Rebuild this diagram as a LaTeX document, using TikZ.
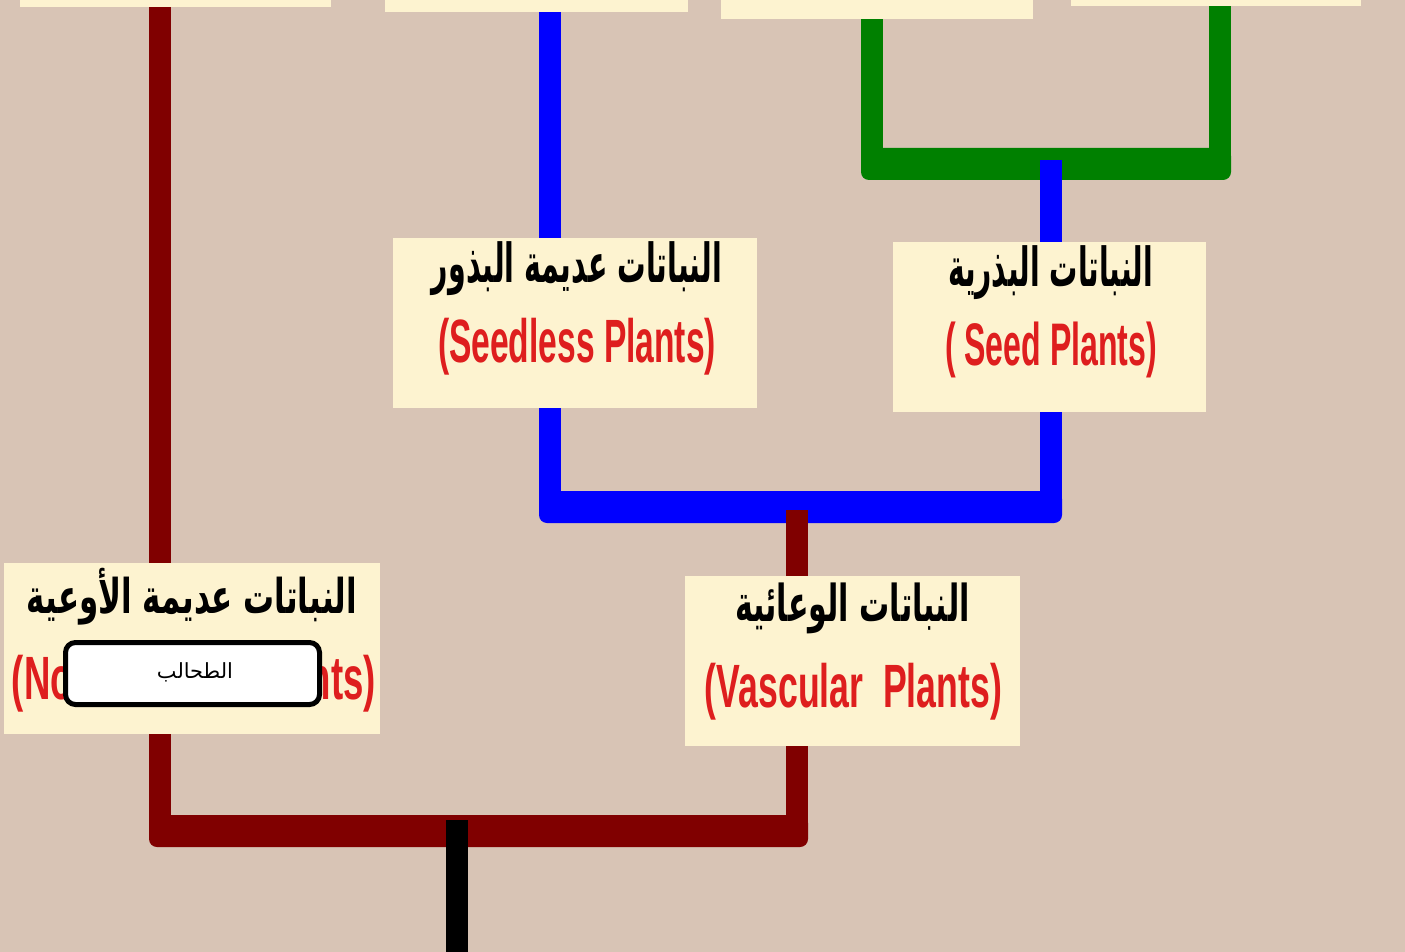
\documentclass[tikz,border=0pt]{standalone}
\usepackage{fontspec}
\usepackage{graphicx}
\usetikzlibrary{calc}
\setmainfont{Liberation Sans}
\newfontfamily\arabicfont[Script=Arabic]{DejaVu Sans}
\TeXXeTstate=1
\definecolor{bg}{RGB}{216,196,181}
\definecolor{cream}{RGB}{253,243,208}
\definecolor{dred}{RGB}{128,0,0}
\definecolor{tred}{RGB}{222,30,30}
\definecolor{gr}{RGB}{0,128,0}
\newcommand\artxt[3]{\resizebox*{#1pt}{#2pt}{\arabicfont\bfseries #3}}
\newcommand\entxt[3]{\resizebox*{#1pt}{#2pt}{\bfseries\textcolor{tred}{#3}}}
\tikzset{
  box/.style={rectangle, fill=cream, inner sep=0pt},
  txt/.style={inner sep=0pt, anchor=center},
  conn/.style={line width=22pt, line join=round},
  lbl/.style={rectangle, draw=black, fill=white, line width=5pt, rounded corners=10pt, inner sep=0pt, minimum width=254pt, minimum height=62pt}
}
\begin{document}
\begin{tikzpicture}[x=1pt,y=-1pt]
\useasboundingbox (0,0) rectangle (1405,952);
\clip (0,0) rectangle (1405,952);
\fill[bg] (0,0) rectangle (1405,952);
% top boxes (cut off)
\node[box, minimum width=311pt, minimum height=170pt] (t1) at (175.5,-78) {};
\node[box, minimum width=303pt, minimum height=170pt] (t2) at (536.5,-73) {};
\node[box, minimum width=312pt, minimum height=170pt] (t3) at (877,-66) {};
\node[box, minimum width=290pt, minimum height=170pt] (t4) at (1216,-79) {};
% main boxes
\node[box, minimum width=364pt, minimum height=170pt] (sl) at (575,323) {};
\node[box, minimum width=313pt, minimum height=170pt] (sd) at (1049.5,327) {};
\node[box, minimum width=376pt, minimum height=171pt] (nv) at (192,648.5) {};
\node[box, minimum width=335pt, minimum height=170pt] (vs) at (852.5,661) {};
% texts
\node[txt] (slar) at (577,269) {\artxt{290}{54}{\beginR النباتات عديمة البذور\endR}};
\node[txt] (slen) at (577,346.5) {\entxt{278}{57}{(Seedless Plants)}};
\node[txt] (sdar) at (1050.5,273) {\artxt{205}{54}{\beginR النباتات البذرية\endR}};
\node[txt] (sden) at (1051,350) {\entxt{212}{56}{( Seed Plants)}};
\node[txt] (nvar) at (192,596.5) {\artxt{330}{57}{\beginR النباتات عديمة الأوعية\endR}};
\node[txt] (nven) at (194,683.5) {\entxt{364}{57}{(Nonvascular Plants)}};
\node[txt] (vsar) at (852.5,608.5) {\artxt{235}{51}{\beginR النباتات الوعائية\endR}};
\node[txt] (vsen) at (853.5,691.5) {\entxt{297}{57}{(Vascular\ \ Plants)}};
% coordinates
\coordinate (xr) at (160,0);
\coordinate (xb) at (550,0);
\coordinate (xs) at (1051,0);
\coordinate (xg1) at (872,0);
\coordinate (xg2) at (1220,0);
\coordinate (xv) at (797,0);
\coordinate (yg) at (0,164);
\coordinate (yb) at (0,507);
\coordinate (yr) at (0,831);
\coordinate (gj) at (1051,160);
\coordinate (bj) at (797,510);
\coordinate (rj) at (457,820);
\coordinate (root) at (457,952);
% green bracket
\draw[conn, gr] (t3.south -| xg1) -- (xg1 |- yg) -- (xg2 |- yg) -- (t4.south -| xg2);
\fill[gr, rounded corners=8pt] ($(xg1 |- yg)+(-11,-16)$) rectangle ($(xg2 |- yg)+(11,16)$);
% blue
\draw[conn, blue] (t2.south -| xb) -- (sl.north -| xb);
\draw[conn, blue] (gj) -- (sd.north -| xs);
\draw[conn, blue] (sl.south -| xb) -- (xb |- yb) -- (xs |- yb) -- (sd.south -| xs);
\fill[blue, rounded corners=8pt] ($(xb |- yb)+(-11,-16)$) rectangle ($(xs |- yb)+(11,16)$);
% dark red
\draw[conn, dred] (t1.south -| xr) -- (nv.north -| xr);
\draw[conn, dred] (bj) -- (vs.north -| xv);
\draw[conn, dred] (nv.south -| xr) -- (xr |- yr) -- (xv |- yr) -- (vs.south -| xv);
\fill[dred, rounded corners=8pt] ($(xr |- yr)+(-11,-16)$) rectangle ($(xv |- yr)+(11,16)$);
% root
\draw[conn, black] (rj) -- (root);
% white label
\node[lbl] (alg) at (192.5,673.5) {};
\node[txt] (algt) at (195,672) {\resizebox{76pt}{!}{\arabicfont\beginR الطحالب\endR}};
\end{tikzpicture}
\end{document}
